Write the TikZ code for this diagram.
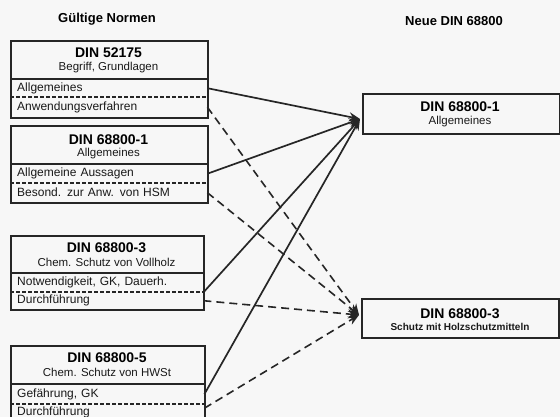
\documentclass[tikz,border=0pt]{standalone}
\usepackage{fontspec}
\setmainfont{Liberation Sans}
\usetikzlibrary{arrows.meta,calc}
\begin{document}
\begin{tikzpicture}[x=1pt,y=-1pt,
  frame/.style={draw=black!85, line width=1.8pt, inner sep=0pt, anchor=north west},
  ttl/.style={font=\fontsize{14}{16}\selectfont\bfseries, inner sep=0pt, text=black},
  sub/.style={font=\fontsize{11.5}{13}\selectfont, inner sep=0pt, text=black!90},
  rowtext/.style={font=\fontsize{12}{14}\selectfont, inner ysep=0pt, inner xsep=7pt, align=left, anchor=north west, text=black!90},
  divsolid/.style={line width=1.2pt, draw=black!85},
  divdash/.style={line width=1.2pt, draw=black!85, dash pattern=on 4pt off 2pt},
  solidline/.style={line width=1.7pt, draw=black!85},
  dashline/.style={line width=1.6pt, draw=black!85, dash pattern=on 8pt off 5pt},
  tiparrow/.style={-{Stealth[length=11pt,width=9pt]}},
  hdr/.style={font=\fontsize{13}{15}\selectfont\bfseries, text=black, inner sep=0pt}
]
\useasboundingbox (0,0) rectangle (560,417);
\fill[black!3] (0,0) rectangle (560,417);
\begin{scope}
\clip (0,0) rectangle (560,417);

% headers
\node[hdr] (h1) at (107,19) {Gültige Normen};
\node[hdr] (h2) at (454,21) {Neue DIN 68800};

% Box 1
\node[frame, minimum width=197pt, minimum height=77pt] (b1) at (10,40) {};
\node[ttl] (b1t) at (108.5,53) {DIN 52175};
\node[sub] (b1s) at (108.5,68) {Begriff, Grundlagen};
\node[rowtext, text width=183pt, minimum height=18pt] (a1) at (10,79) {Allgemeines};
\node[rowtext, text width=183pt, minimum height=20pt] (a2) at (10,97) {Anwendungsverfahren};
\draw[divsolid] (a1.north west) -- (a1.north east);
\draw[divdash] (a2.north west) -- (a2.north east);

% Box 2
\node[frame, minimum width=197pt, minimum height=77pt] (b2) at (10,125) {};
\node[ttl] (b2t) at (108.5,140) {DIN 68800-1};
\node[sub] (b2s) at (108.5,154) {Allgemeines};
\node[rowtext, text width=183pt, minimum height=19pt] (c1) at (10,164) {Allgemeine Aussagen};
\node[rowtext, text width=183pt, minimum height=19pt] (c2) at (10,183) {Besond. zur Anw. von HSM};
\draw[divsolid] (c1.north west) -- (c1.north east);
\draw[divdash] (c2.north west) -- (c2.north east);

% Box 3
\node[frame, minimum width=193pt, minimum height=74pt] (b3) at (10,235) {};
\node[ttl] (b3t) at (106.5,248) {DIN 68800-3};
\node[sub] (b3s) at (106.5,262) {Chem. Schutz von Vollholz};
\node[rowtext, text width=179pt, minimum height=19pt] (e1) at (10,273) {Notwendigkeit, GK, Dauerh.};
\node[rowtext, text width=179pt, minimum height=17pt] (e2) at (10,292) {Durchführung};
\draw[divsolid] (e1.north west) -- (e1.north east);
\draw[divdash] (e2.north west) -- (e2.north east);

% Box 4
\node[frame, minimum width=194pt, minimum height=80pt] (b4) at (10,345) {};
\node[ttl] (b4t) at (107,358) {DIN 68800-5};
\node[sub] (b4s) at (107,372) {Chem. Schutz von HWSt};
\node[rowtext, text width=180pt, minimum height=20pt] (g1) at (10,384) {Gefährung, GK};
\node[rowtext, text width=180pt, minimum height=16pt] (g2) at (10,404) {Durchführung};
\draw[divsolid] (g1.north west) -- (g1.north east);
\draw[divdash] (g2.north west) -- (g2.north east);

% Right boxes
\node[frame, minimum width=197pt, minimum height=40pt] (r1) at (362,93) {};
\node[ttl] (r1t) at (460,107) {DIN 68800-1};
\node[sub] (r1s) at (460,122) {Allgemeines};
\node[frame, minimum width=197pt, minimum height=39pt] (r2) at (361,298) {};
\node[ttl] (r2t) at (460,313.5) {DIN 68800-3};
\node[sub, font=\fontsize{10}{12}\selectfont\bfseries] (r2s) at (460,327) {Schutz mit Holzschutzmitteln};

\coordinate (tA) at ($(r1.north west)+(-2,26)$);
\coordinate (tB) at ($(r2.north west)+(-2,17)$);

% solid connectors
\draw[solidline, tiparrow] (a1.east) -- (tA);
\draw[solidline, tiparrow] (c1.east) -- (tA);
\draw[solidline, tiparrow] (e1.south east) -- (tA);
\draw[solidline, tiparrow] (g1.east) -- (tA);

% dashed connectors
\draw[dashline, tiparrow] (a2.east) -- (tB);
\draw[dashline, tiparrow] (c2.east) -- (tB);
\draw[dashline, tiparrow] (e2.east) -- (tB);
\draw[dashline, tiparrow] ($(g2.east)+(0,-4)$) -- (tB);
\end{scope}
\end{tikzpicture}
\end{document}
